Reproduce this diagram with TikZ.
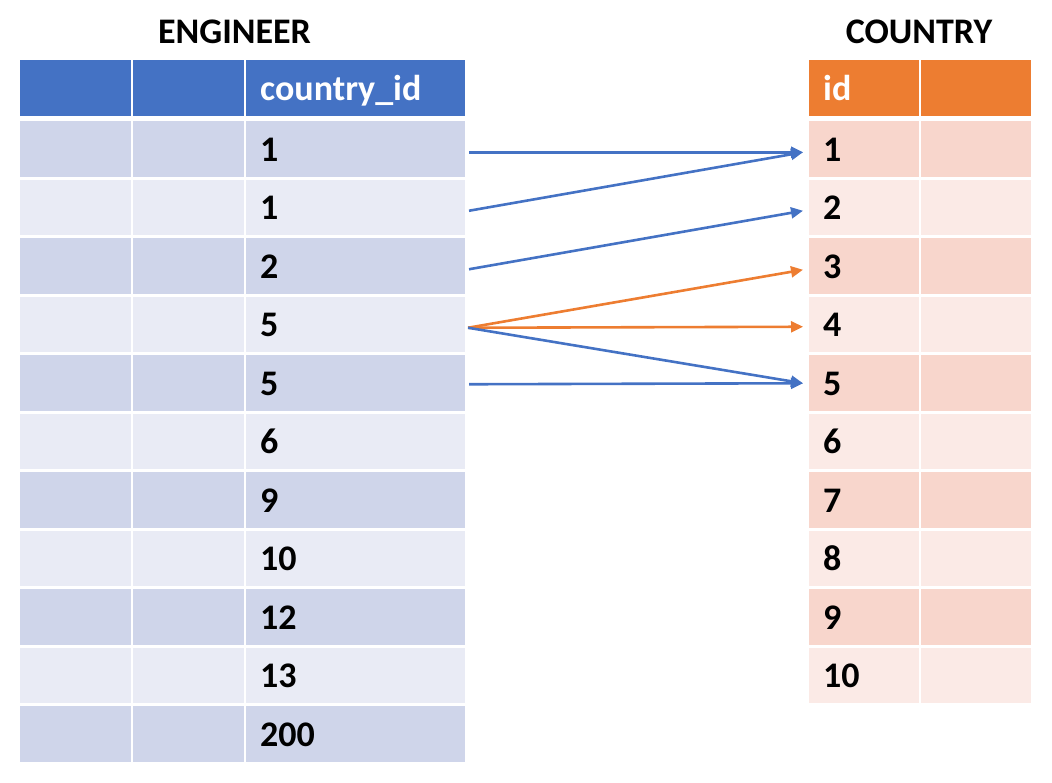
\documentclass[tikz,border=0pt]{standalone}
\usepackage{fontspec}
\setmainfont{Carlito}
\usetikzlibrary{arrows.meta,calc}
\definecolor{hblue}{HTML}{4472C4}
\definecolor{bdark}{HTML}{CFD5EA}
\definecolor{blight}{HTML}{E9EBF5}
\definecolor{horange}{HTML}{ED7D31}
\definecolor{odark}{HTML}{F8D6CC}
\definecolor{olight}{HTML}{FBEAE6}
\tikzset{
  cell/.style={anchor=north west, inner sep=0pt, outer sep=0pt, minimum height=55.5pt},
  hcell/.style={cell, minimum height=56pt},
  txt/.style={anchor=base west, inner sep=0pt, font=\bfseries\fontsize{36}{40}\selectfont},
  htxt/.style={txt, text=white},
  ttl/.style={anchor=base, inner sep=0pt, font=\bfseries\fontsize{36}{40}\selectfont},
  arr/.style={line width=2.6pt, -{Triangle[length=12pt,width=11pt]}}
}
\begin{document}
\begin{tikzpicture}[x=1pt,y=-1pt]
\useasboundingbox (0,0) rectangle (1052,782);
\node[ttl] (te) at (234.5,43) {ENGINEER};
\node[ttl] (tc) at (919,43) {COUNTRY};
% ENGINEER header
\node[hcell,fill=hblue,minimum width=111pt] (eh-1) at (20,60) {};
\node[hcell,fill=hblue,minimum width=111pt] (eh-2) at (133,60) {};
\node[hcell,fill=hblue,minimum width=219pt] (eh-3) at (246,60) {};
\node[htxt] (eht) at ($(eh-3.west)+(14,12)$) {country\_id};
% COUNTRY header
\node[hcell,fill=horange,minimum width=110pt] (ch-1) at (809,60) {};
\node[hcell,fill=horange,minimum width=110pt] (ch-2) at (921,60) {};
\node[htxt] (cht) at ($(ch-1.west)+(14,12)$) {id};
% ENGINEER rows
\foreach \v [count=\r] in {1,1,2,5,5,6,9,10,12,13,200}{
  \ifodd\r\def\fc{bdark}\else\def\fc{blight}\fi
  \pgfmathsetmacro\yy{121+(\r-1)*58.5}
  \node[cell,fill=\fc,minimum width=111pt] (e\r-1) at (20,\yy) {};
  \node[cell,fill=\fc,minimum width=111pt] (e\r-2) at (133,\yy) {};
  \node[cell,fill=\fc,minimum width=219pt] (e\r-3) at (246,\yy) {};
  \node[txt] (et\r) at ($(e\r-3.west)+(14,12.5)$) {\v};
}
% COUNTRY rows
\foreach \v [count=\r] in {1,2,3,4,5,6,7,8,9,10}{
  \ifodd\r\def\fc{odark}\else\def\fc{olight}\fi
  \pgfmathsetmacro\yy{121+(\r-1)*58.5}
  \node[cell,fill=\fc,minimum width=110pt] (c\r-1) at (809,\yy) {};
  \node[cell,fill=\fc,minimum width=110pt] (c\r-2) at (921,\yy) {};
  \node[txt] (ct\r) at ($(c\r-1.west)+(14,12.5)$) {\v};
}
% connectors
\draw[arr,hblue] ([xshift=4pt,yshift=-3.5pt]e1-3.east) -- ([xshift=-6pt,yshift=-3.5pt]c1-1.west);
\draw[arr,hblue] ([xshift=4pt,yshift=-3.5pt]e2-3.east) -- ([xshift=-6pt,yshift=-3.5pt]c1-1.west);
\draw[arr,hblue] ([xshift=4pt,yshift=-3.5pt]e3-3.east) -- ([xshift=-6pt,yshift=-3.5pt]c2-1.west);
\draw[arr,horange] ([xshift=3pt,yshift=-3.5pt]e4-3.east) -- ([xshift=-6pt,yshift=-4pt]c3-1.west);
\draw[arr,horange] ([xshift=3pt,yshift=-3.5pt]e4-3.east) -- ([xshift=-6pt,yshift=-2.5pt]c4-1.west);
\draw[arr,hblue] ([xshift=3pt,yshift=-3.5pt]e4-3.east) -- ([xshift=-6pt,yshift=-0.5pt]c5-1.west);
\draw[arr,hblue] ([xshift=4pt,yshift=-1.5pt]e5-3.east) -- ([xshift=-6pt,yshift=-0.5pt]c5-1.west);
\end{tikzpicture}
\end{document}
